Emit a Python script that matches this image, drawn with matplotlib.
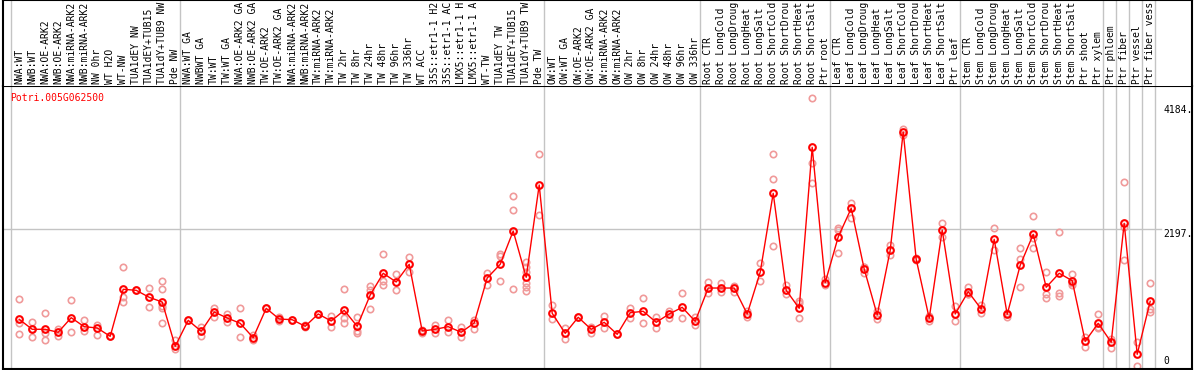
import matplotlib.pyplot as plt
from matplotlib import transforms

gene = 'Potri.005G062500'

labels = [
    'NWA:WT', 'NWB:WT', 'NWA:OE-ARK2', 'NWB:OE-ARK2', 'NWA:miRNA-ARK2', 'NWB:miRNA-ARK2',
    'NW 0hr', 'WT H2O', 'WT-NW', 'TUA1dEY NW', 'TUA1dEY+TUB15', 'TUA1dY+TUB9 NW', 'Pde NW',
    'NWA:WT GA', 'NWBWT GA', 'TW:WT', 'TW:WT GA', 'NWA:OE-ARK2 GA', 'NWB:OE-ARK2 GA',
    'TW:OE-ARK2', 'TW:OE-ARK2 GA', 'NWA:miRNA-ARK2', 'NWB:miRNA-ARK2', 'TW:miRNA-ARK2',
    'TW:miRNA-ARK2', 'TW 2hr', 'TW 8hr', 'TW 24hr', 'TW 48hr', 'TW 96hr', 'TW 336hr',
    'WT ACC', '35S::etr1-1 H2', '35S::etr1-1 AC', 'LMX5::etr1-1 H', 'LMX5::etr1-1 A',
    'WT-TW', 'TUA1dEY TW', 'TUA1dEY+TUB15', 'TUA1dY+TUB9 TW', 'Pde TW',
    'OW:WT', 'OW:WT GA', 'OW:OE-ARK2', 'OW:OE-ARK2 GA', 'OW:miRNA-ARK2', 'OW:miRNA-ARK2',
    'OW 2hr', 'OW 8hr', 'OW 24hr', 'OW 48hr', 'OW 96hr', 'OW 336hr',
    'Root CTR', 'Root LongCold', 'Root LongDroug', 'Root LongHeat', 'Root LongSalt',
    'Root ShortCold', 'Root ShortDrou', 'Root ShortHeat', 'Root ShortSalt', 'Ptr root',
    'Leaf CTR', 'Leaf LongCold', 'Leaf LongDroug', 'Leaf LongHeat', 'Leaf LongSalt',
    'Leaf ShortCold', 'Leaf ShortDrou', 'Leaf ShortHeat', 'Leaf ShortSalt', 'Ptr leaf',
    'Stem CTR', 'Stem LongCold', 'Stem LongDroug', 'Stem LongHeat', 'Stem LongSalt',
    'Stem ShortCold', 'Stem ShortDrou', 'Stem ShortHeat', 'Stem ShortSalt', 'Ptr shoot',
    'Ptr xylem', 'Ptr phloem', 'Ptr fiber', 'Ptr vessel', 'Ptr fiber vess',
]

means = [
    742, 582, 582, 534, 768, 624, 603, 469, 1225, 1208, 1096, 1020, 309,
    726, 550, 860, 763, 678, 447, 919, 747, 736, 630, 828, 715, 887, 630, 1133,
    1482, 1342, 1626, 554, 582, 624, 534, 683, 1406, 1626, 2161, 1417, 2901,
    839, 517, 775, 582, 694, 501, 848, 871, 694, 828, 935, 710,
    1245, 1245, 1245, 828, 1498, 2767, 1208, 919, 3506, 1331,
    2065, 2526, 1551, 812, 1851, 3752, 1707, 759, 2177, 828,
    1186, 908, 2028, 823, 1610, 2108, 1257, 1482, 1363, 389,
    678, 373, 2285, 180, 1032,
]

reps = [
    [1064, 678, 501], [699, 582, 463], [844, 517, 405], [582, 474], [1048, 534],
    [731, 559], [651, 495], [469], [1578, 1106, 1016], [1208], [1241, 935],
    [1358, 1225, 956, 919, 678], [410, 265],
    [726], [614, 474], [929, 784], [832, 699], [919, 458], [495, 405], [919],
    [784, 710], [736], [648, 612], [828], [795, 614], [1225, 759, 688],
    [775, 559, 527], [1278, 1220, 903], [1787, 1363, 1289], [1470, 1208],
    [1739, 1507], [570, 517], [651, 517], [731, 543], [619, 463], [731, 591],
    [1491, 1294], [1792, 1760, 1358], [2724, 2499, 1225],
    [1668, 1588, 1507, 1321, 1257, 1202], [3399, 2419],
    [967, 742], [598, 421], [775], [624, 517], [795, 607], [501], [919, 759],
    [1080, 678], [784, 607], [881, 759], [1165, 759], [784, 651],
    [1342, 1160], [1331, 1186], [1282, 1186], [876, 784], [1647, 1363],
    [3394, 2992, 1916], [1294, 1149], [1041, 1004, 759], [4294, 3259, 2938],
    [1390, 1294],
    [2205, 2177, 1803], [2616, 2366], [1491, 1580, 1582], [876, 742], [1936, 1776],
    [3801, 3704], [1690, 1724], [795, 722], [2285, 2070], [956, 715],
    [1266, 1149, 1143], [968, 848], [2205, 1856], [848, 775], [1883, 1711, 1257],
    [2402, 2044, 1883], [1503, 1149, 1080], [2141, 1170, 1117], [1470, 1321, 1300],
    [463, 302], [823, 614, 598], [426, 286], [2944, 2231, 1695], [373, -8],
    [1321, 903, 865],
]

group_bounds = [0, 13, 41, 53, 63, 73, 84, 85, 86, 87, 88]
scale_ticks = [0, 2197, 4184]

# layout in pixels of the original image
W, H = 1194, 370
left_px, right_px = 2.7, 1192.3
top_px, bot_px = 85.7, 368.5
zero_px = 365.5
units_per_px = 16.07
col0_px, col_w = 19.2, 13.0

fig = plt.figure(figsize=(W / 100, H / 100), dpi=100)
ax = fig.add_axes([left_px / W, (H - bot_px) / H, (right_px - left_px) / W, (bot_px - top_px) / H])
axl = fig.add_axes([left_px / W, (H - top_px) / H, (right_px - left_px) / W, top_px / H])

xlim = ((left_px - col0_px) / col_w, (right_px - col0_px) / col_w)
for a in (ax, axl):
    a.set_xlim(xlim)
    a.set_xticks([])
    a.set_yticks([])
    for s in a.spines.values():
        s.set_linewidth(1.5)
        s.set_color('black')
ax.set_ylim(-(bot_px - zero_px) * units_per_px, (zero_px - top_px) * units_per_px)
axl.set_ylim(0, 1)
axl.spines['bottom'].set_visible(False)

off = 8.5 / col_w
for b in group_bounds:
    ax.axvline(b - off, color='#c4c4c4', lw=1, zorder=0)
    axl.axvline(b - off, color='#c4c4c4', lw=1, zorder=0)

lab_x = (1163 - left_px) / (right_px - left_px)
ax.axhline(scale_ticks[1], xmax=lab_x - 0.002, color='#c4c4c4', lw=1, zorder=0)

mono = 'DejaVu Sans Mono'
trans = transforms.blended_transform_factory(ax.transAxes, ax.transData)
for t in scale_ticks:
    txt = str(t) if t == 0 else str(t) + '.'
    ax.text(lab_x, t, txt, transform=trans, ha='left', va='bottom' if t == 0 else 'top',
            family=mono, fontsize=7)

for i, lab in enumerate(labels):
    axl.text(i, 0.02, lab, rotation=90, ha='center', va='bottom', family=mono,
             fontsize=7, clip_on=True)

fig.text(10 / W, (H - 100.7) / H, gene, color='red', family=mono, fontsize=7, va='baseline')

for i, r in enumerate(reps):
    ax.plot([i] * len(r), r, 'o', mfc='none', mec='#f09a9a', ms=4.6, mew=1.2, zorder=2)

ax.plot(range(len(means)), means, '-', color='red', lw=1, marker='o', mfc='none',
        mec='red', ms=4.8, mew=1.5, zorder=3)

fig.savefig('out.png', dpi=100)
